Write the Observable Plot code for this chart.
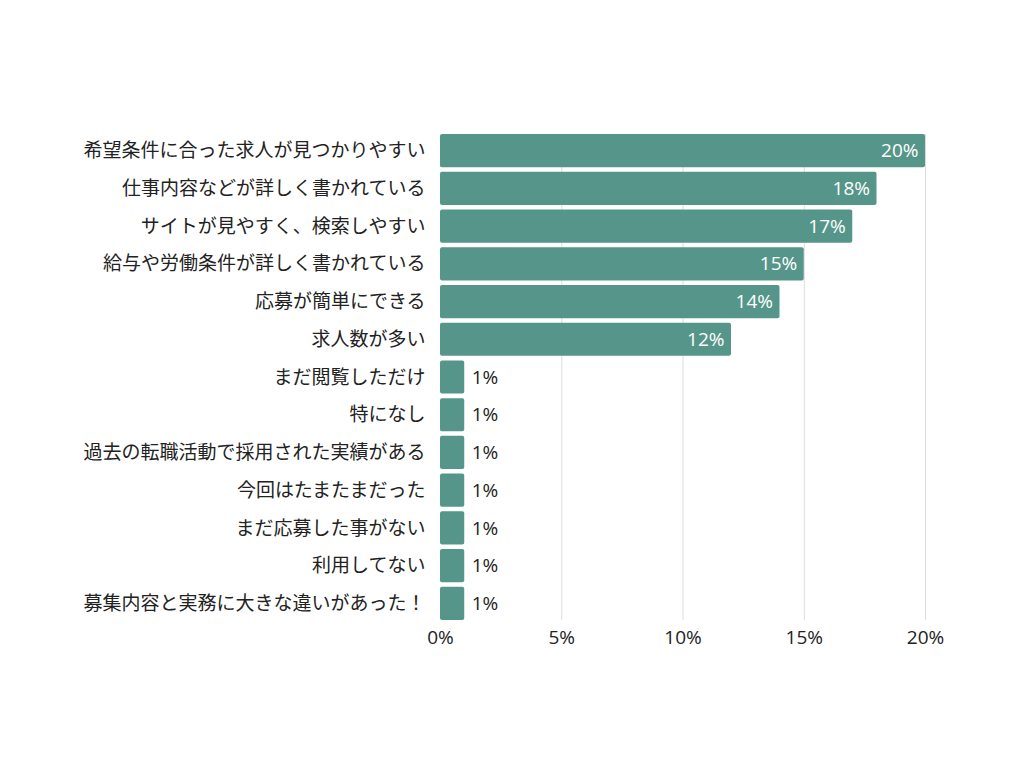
<!DOCTYPE html>
<html>
<head>
<meta charset="utf-8">
<script src="https://cdn.jsdelivr.net/npm/d3@7"></script>
<script src="https://cdn.jsdelivr.net/npm/@observablehq/plot@0.6"></script>
<style>
  html, body { margin: 0; padding: 0; background: #fff; }
  #chart svg { display: block; }
</style>
</head>
<body>
<div id="chart"></div>
<script>
// Reasons respondents gave (top to bottom) and their share in percent
const categories = [
  "希望条件に合った求人が見つかりやすい",
  "仕事内容などが詳しく書かれている",
  "サイトが見やすく、検索しやすい",
  "給与や労働条件が詳しく書かれている",
  "応募が簡単にできる",
  "求人数が多い",
  "まだ閲覧しただけ",
  "特になし",
  "過去の転職活動で採用された実績がある",
  "今回はたまたまだった",
  "まだ応募した事がない",
  "利用してない",
  "募集内容と実務に大きな違いがあった！"
];
const values = [20, 18, 17, 15, 14, 12, 1, 1, 1, 1, 1, 1, 1];
const xTicks = [0, 5, 10, 15, 20];
const gridTicks = [5, 10, 15, 20];

const data = categories.map((c, i) => ({category: c, value: values[i]}));
const inside = data.filter(d => d.value >= 5);
const outside = data.filter(d => d.value < 5);

const fontFamily = "'Open Sans', 'Noto Sans CJK JP', sans-serif";
const fontSize = 19;
const barColor = "#56968a";

const chart = Plot.plot({
  width: 1024,
  height: 768,
  marginLeft: 440,
  marginRight: 99,
  marginTop: 134,
  marginBottom: 148,
  style: {fontFamily, fontSize: fontSize + "px", color: "#222", background: "#fff"},
  x: {domain: [0, 20], ticks: xTicks, tickFormat: d => d + "%", tickSize: 0, tickPadding: 10, label: null},
  y: {domain: categories, paddingInner: 0.12, paddingOuter: 0, round: false, tickSize: 0, tickPadding: 15, label: null},
  marks: [
    Plot.ruleX(gridTicks, {stroke: "#dcdcdc", strokeWidth: 1}),
    Plot.barX(data, {x: "value", y: "category", fill: barColor, rx: 2}),
    Plot.text(inside, {
      x: "value", y: "category", text: d => d.value + "%",
      textAnchor: "end", dx: -7, fill: "#fff", fontSize
    }),
    Plot.text(outside, {
      x: "value", y: "category", text: d => d.value + "%",
      textAnchor: "start", dx: 7, fill: "#222", fontSize
    })
  ]
});

document.getElementById("chart").appendChild(chart);
</script>
</body>
</html>
